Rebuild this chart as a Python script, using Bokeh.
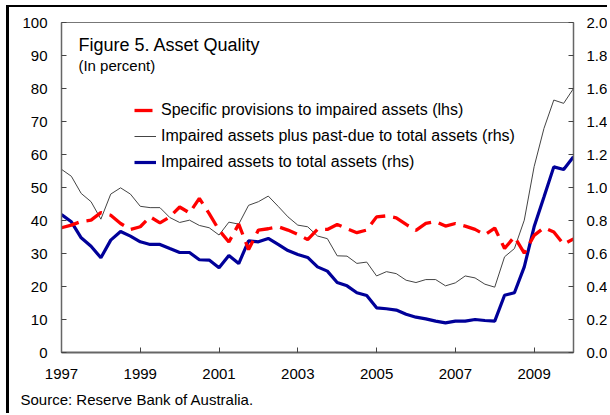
import numpy as np
from bokeh.plotting import figure
from bokeh.models import (Range1d, LinearAxis, FixedTicker, NumeralTickFormatter,
                          Legend, LegendItem, Label, Title)
from bokeh.embed import file_html
from bokeh.resources import INLINE

# ---------------- data (quarterly, 1997Q1 .. 2010Q1) ----------------
start_year = 1997
quarter_index = list(range(53))

provisions_lhs = [37.8, 38.6, 39.7, 40.1, 42.4, 41.6, 39.1, 37.3, 38.1, 41.1,
                  39.3, 41.1, 44.1, 42.3, 46.7, 42.1, 37.1, 33.5, 38.9, 31.2,
                  37.1, 37.5, 38.1, 37.1, 35.8, 34.2, 37.3, 37.3, 38.8, 37.5,
                  36.3, 37.1, 41.1, 41.4, 40.8, 38.8, 37.0, 39.1, 39.7, 38.3,
                  39.1, 38.3, 37.3, 35.7, 37.7, 31.5, 35.1, 30.1, 35.5, 37.8,
                  36.5, 32.8, 34.4]

impaired_plus_pastdue_rhs = [1.110, 1.068, 0.964, 0.914, 0.808, 0.960, 0.998, 0.960, 0.886, 0.878,
                             0.878, 0.818, 0.788, 0.802, 0.770, 0.756, 0.712, 0.790, 0.778, 0.892,
                             0.914, 0.948, 0.886, 0.822, 0.772, 0.762, 0.706, 0.690, 0.586, 0.584,
                             0.540, 0.548, 0.464, 0.490, 0.478, 0.438, 0.424, 0.442, 0.442, 0.404,
                             0.422, 0.464, 0.452, 0.414, 0.396, 0.580, 0.630, 0.802, 1.126, 1.358,
                             1.530, 1.510, 1.600]

impaired_rhs = [0.836, 0.792, 0.695, 0.644, 0.574, 0.681, 0.733, 0.705, 0.671, 0.655,
                0.655, 0.630, 0.606, 0.606, 0.562, 0.560, 0.513, 0.588, 0.539, 0.677,
                0.671, 0.691, 0.655, 0.618, 0.594, 0.576, 0.519, 0.493, 0.424, 0.404,
                0.362, 0.345, 0.271, 0.265, 0.257, 0.232, 0.214, 0.204, 0.190, 0.180,
                0.190, 0.190, 0.200, 0.194, 0.190, 0.347, 0.362, 0.519, 0.762, 0.943,
                1.125, 1.109, 1.186]

x_ticks = [1997, 1999, 2001, 2003, 2005, 2007, 2009]
lhs_ticks = [0, 10, 20, 30, 40, 50, 60, 70, 80, 90, 100]
rhs_ticks = [0.0, 0.2, 0.4, 0.6, 0.8, 1.0, 1.2, 1.4, 1.6, 1.8, 2.0]

series_names = ["Specific provisions to impaired assets (lhs)",
                "Impaired assets plus past-due to total assets (rhs)",
                "Impaired assets to total assets (rhs)"]
title_text = "Figure 5. Asset Quality"
subtitle_text = "(In percent)"
source_text = "Source: Reserve Bank of Australia."

x = [start_year + q / 4 for q in quarter_index]

FONT = "Liberation Sans"

p = figure(width=601, height=408,
           x_range=Range1d(1997, 2010), y_range=Range1d(0, 100),
           output_backend="svg", toolbar_location=None,
           min_border_left=52, min_border_right=36,
           min_border_top=15, min_border_bottom=63)
p.styles = {"margin-left": "6px", "margin-top": "5px",
            "border-left": "3px solid black", "border-top": "2px solid black"}
p.extra_y_ranges = {"rhs": Range1d(0, 2)}
p.xgrid.visible = False
p.ygrid.visible = False
p.outline_line_color = "#777777"
p.outline_line_width = 1
p.background_fill_color = "white"
p.border_fill_color = "white"

# lines
r_gray = p.line(x, impaired_plus_pastdue_rhs, y_range_name="rhs",
                line_color="#444444", line_width=1)
r_blue = p.line(x, impaired_rhs, y_range_name="rhs",
                line_color="#000099", line_width=3.2)
r_red = p.line(x, provisions_lhs, line_color="#ff0000", line_width=3.3,
               line_dash="18 8")

# axes
def style_axis(ax, standoff):
    ax.major_tick_in = 5
    ax.major_tick_out = 0
    ax.minor_tick_in = 0
    ax.minor_tick_out = 0
    ax.axis_line_color = "#666666"
    ax.axis_line_width = 1.5
    ax.major_tick_line_color = "#444444"
    ax.major_tick_line_width = 1
    ax.major_label_text_font = FONT
    ax.major_label_text_font_size = "15px"
    ax.major_label_text_color = "black"
    ax.major_label_standoff = standoff

xa = p.xaxis[0]
xa.ticker = FixedTicker(ticks=x_ticks)
style_axis(xa, 16)
xa.axis_line_width = 2

ya = p.yaxis[0]
ya.ticker = FixedTicker(ticks=lhs_ticks)
style_axis(ya, 14)

ra = LinearAxis(y_range_name="rhs", ticker=FixedTicker(ticks=rhs_ticks),
                formatter=NumeralTickFormatter(format="0.0"))
style_axis(ra, 13)
p.add_layout(ra, "right")

# legend
legend = Legend(items=[LegendItem(label=series_names[0], renderers=[r_red]),
                       LegendItem(label=series_names[1], renderers=[r_gray]),
                       LegendItem(label=series_names[2], renderers=[r_blue])],
                location=(73, 181), orientation="vertical",
                background_fill_alpha=0, border_line_alpha=0,
                padding=0, margin=0, spacing=8,
                glyph_width=22, glyph_height=18, label_height=18,
                label_standoff=5,
                label_text_font=FONT, label_text_font_size="16px",
                label_text_color="black")
p.add_layout(legend, "center")

# titles / source
p.add_layout(Label(x=1997.43, y=93.3, text=title_text, text_font=FONT,
                   text_font_size="18px", text_baseline="middle", text_color="black"))
p.add_layout(Label(x=1997.43, y=87.0, text=subtitle_text, text_font=FONT,
                   text_font_size="15px", text_baseline="middle", text_color="black"))
p.add_layout(Title(text=source_text, align="left", offset=-41, standoff=15,
                   text_font=FONT, text_font_size="15px", text_font_style="normal",
                   text_color="black"), "below")

open("out.html", "w").write(file_html(p, INLINE))
